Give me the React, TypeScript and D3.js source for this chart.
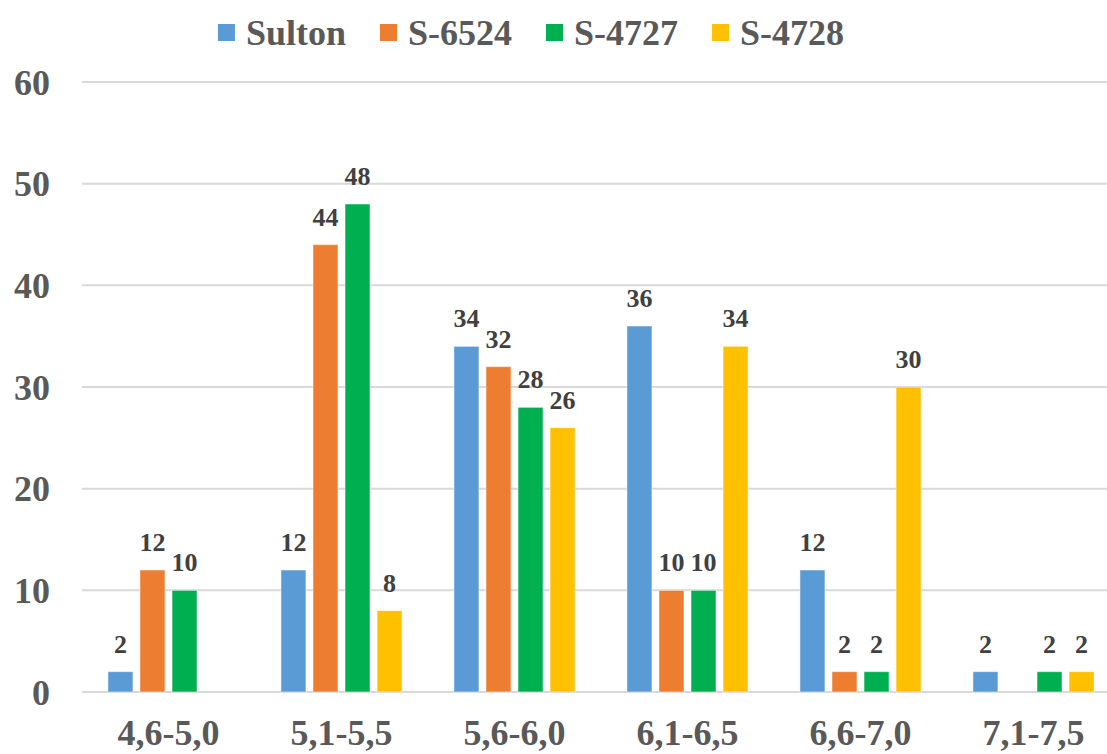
import React, { useEffect, useRef } from 'react';
import * as d3 from 'd3';

const categories = ['4,6-5,0', '5,1-5,5', '5,6-6,0', '6,1-6,5', '6,6-7,0', '7,1-7,5'];
const seriesNames = ['Sulton', 'S-6524', 'S-4727', 'S-4728'];
const seriesColors = ['#5B9BD5', '#ED7D31', '#00B050', '#FFC000'];
const sultonValues = [2, 12, 34, 36, 12, 2];
const s6524Values = [12, 44, 32, 10, 2, 0];
const s4727Values = [10, 48, 28, 10, 2, 2];
const s4728Values = [0, 8, 26, 34, 30, 2];
const yTicks = [0, 10, 20, 30, 40, 50, 60];

const allValues = [sultonValues, s6524Values, s4727Values, s4728Values];

const FONT = 'Liberation Serif';

export default function App() {
  const svgRef = useRef<SVGSVGElement>(null);

  useEffect(() => {
    if (!svgRef.current) return;
    const svg = d3.select(svgRef.current);
    svg.selectAll('*').remove();

    const width = 1107;
    const plot = { left: 82, right: 1120, top: 82, bottom: 692 };

    const y = d3.scaleLinear().domain([0, 60]).range([plot.bottom, plot.top]);

    const x0 = d3.scaleBand<string>()
      .domain(categories)
      .range([plot.left, plot.right])
      .paddingInner(0.3)
      .paddingOuter(0.15);

    const x1 = d3.scaleBand<string>()
      .domain(seriesNames)
      .range([0, x0.bandwidth()])
      .paddingInner(0.22);

    // Gridlines
    svg.append('g')
      .selectAll('line')
      .data(yTicks)
      .enter()
      .append('line')
      .attr('x1', plot.left)
      .attr('x2', width)
      .attr('y1', d => y(d))
      .attr('y2', d => y(d))
      .style('stroke', '#d9d9d9')
      .style('stroke-width', 2);

    // Bars
    const bars = seriesNames.flatMap((s, si) =>
      categories.map((c, ci) => ({ series: s, cat: c, value: allValues[si][ci], color: seriesColors[si] }))
    ).filter(d => d.value > 0);

    svg.append('g')
      .selectAll('rect')
      .data(bars)
      .enter()
      .append('rect')
      .attr('x', d => (x0(d.cat) as number) + (x1(d.series) as number))
      .attr('y', d => y(d.value))
      .attr('width', x1.bandwidth())
      .attr('height', d => plot.bottom - y(d.value))
      .style('fill', d => d.color)
      .style('stroke', '#ffffff')
      .style('stroke-opacity', 0.5)
      .style('stroke-width', 1);

    const txt = svg.append('g')
      .attr('font-family', FONT)
      .attr('font-weight', 'bold');

    // Y tick labels
    txt.append('g')
      .selectAll('text')
      .data(yTicks)
      .enter()
      .append('text')
      .attr('x', 50)
      .attr('y', d => y(d))
      .attr('dy', '0.35em')
      .attr('text-anchor', 'end')
      .attr('font-size', 36)
      .attr('fill', '#595959')
      .text(d => d);

    // X labels
    txt.append('g')
      .selectAll('text')
      .data(categories)
      .enter()
      .append('text')
      .attr('x', d => (x0(d) as number) + x0.bandwidth() / 2)
      .attr('y', 745)
      .attr('text-anchor', 'middle')
      .attr('font-size', 36)
      .attr('fill', '#595959')
      .text(d => d);

    // Value labels
    txt.append('g')
      .selectAll('text')
      .data(bars)
      .enter()
      .append('text')
      .attr('x', d => (x0(d.cat) as number) + (x1(d.series) as number) + x1.bandwidth() / 2)
      .attr('y', d => y(d.value) - 19)
      .attr('text-anchor', 'middle')
      .attr('font-size', 26)
      .attr('fill', '#404040')
      .text(d => d.value);

    // Legend
    const legend = txt.append('g');
    let cursor = 0;
    seriesNames.forEach((name, i) => {
      const item = legend.append('g').attr('transform', `translate(${cursor},0)`);
      item.append('rect')
        .attr('x', 0)
        .attr('y', 24)
        .attr('width', 17)
        .attr('height', 17)
        .style('fill', seriesColors[i]);
      const t = item.append('text')
        .attr('x', 28)
        .attr('y', 45)
        .attr('font-size', 36)
        .attr('fill', '#595959')
        .text(name);
      const w = (t.node() as SVGTextElement).getComputedTextLength();
      cursor += 28 + w + 34;
    });
    const total = cursor - 34;
    legend.attr('transform', `translate(${531 - total / 2},0)`);
  }, []);

  return (
    <div style={{ position: 'absolute', left: 0, top: 0, margin: 0 }}>
      <svg ref={svgRef} width={1107} height={754} style={{ display: 'block', background: '#fff' }} />
    </div>
  );
}
